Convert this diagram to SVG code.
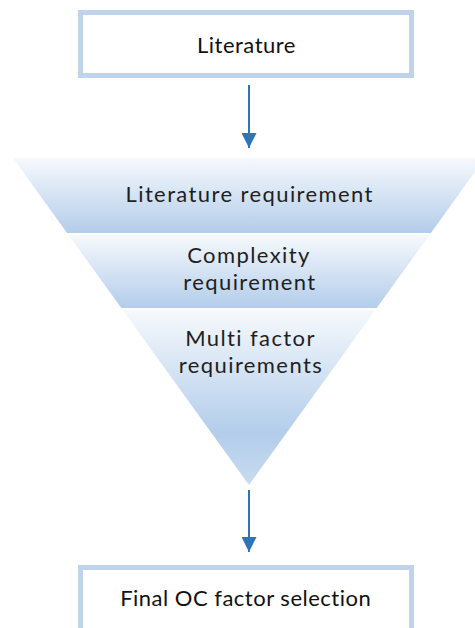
<svg xmlns="http://www.w3.org/2000/svg" width="475" height="628" viewBox="0 0 475 628">
  <defs>
    <style>
      .box { fill: #ffffff; stroke: #BFD3EB; stroke-width: 5; }
      .lbl { font-family: Lato, "Liberation Sans", sans-serif; font-size: 22px; letter-spacing: 0.5px; fill: #111111; text-anchor: middle; }
      .flbl { font-family: Lato, "Liberation Sans", sans-serif; font-size: 22px; letter-spacing: 1.4px; fill: #1f1f1f; text-anchor: middle; }
      .conn { stroke: #2E75B6; stroke-width: 2; fill: none; }
    </style>
    <linearGradient id="g1" x1="0" y1="0" x2="0" y2="1">
      <stop offset="0" stop-color="#F6F9FD"/>
      <stop offset="1" stop-color="#B3CDEA"/>
    </linearGradient>
    <linearGradient id="g3" x1="0" y1="0" x2="0" y2="1">
      <stop offset="0" stop-color="#F6F9FD"/>
      <stop offset="0.7" stop-color="#B3CDEA"/>
      <stop offset="1" stop-color="#C8DBF0"/>
    </linearGradient>
    <marker id="arr" viewBox="0 0 10 10" refX="10" refY="5" markerWidth="7.5" markerHeight="7.5" markerUnits="strokeWidth" orient="auto">
      <path d="M0,0 L10,5 L0,10 Z" fill="#2E75B6"/>
    </marker>
  </defs>

  <g id="node-literature">
    <rect class="box" x="80.5" y="12.5" width="331" height="63"/>
    <text class="lbl" x="246.5" y="53">Literature</text>
  </g>

  <g id="node-funnel">
    <g id="seg-literature-requirement">
      <polygon points="13,158 485,158 430.9,233 67.1,233" fill="url(#g1)"/>
      <text class="flbl" x="249.7" y="202" letter-spacing="1.6">Literature requirement</text>
    </g>
    <g id="seg-complexity-requirement">
      <polygon points="68.6,235 429.4,235 376.7,308 121.3,308" fill="url(#g1)"/>
      <text class="flbl" x="249" y="263">Complexity</text>
      <text class="flbl" x="250" y="290" letter-spacing="1.9">requirement</text>
    </g>
    <g id="seg-multi-factor">
      <polygon points="122.7,310 375.3,310 249,485" fill="url(#g3)"/>
      <text class="flbl" x="250.5" y="346">Multi factor</text>
      <text class="flbl" x="251" y="373">requirements</text>
    </g>
  </g>

  <g id="node-final">
    <rect class="box" x="80.5" y="567.5" width="331" height="80"/>
    <text class="lbl" x="245.7" y="606" letter-spacing="0.3">Final OC factor selection</text>
  </g>

  <g id="connectors">
    <line class="conn" x1="249" y1="85" x2="249" y2="148" marker-end="url(#arr)"/>
    <line class="conn" x1="249" y1="490" x2="249" y2="552" marker-end="url(#arr)"/>
  </g>
</svg>
